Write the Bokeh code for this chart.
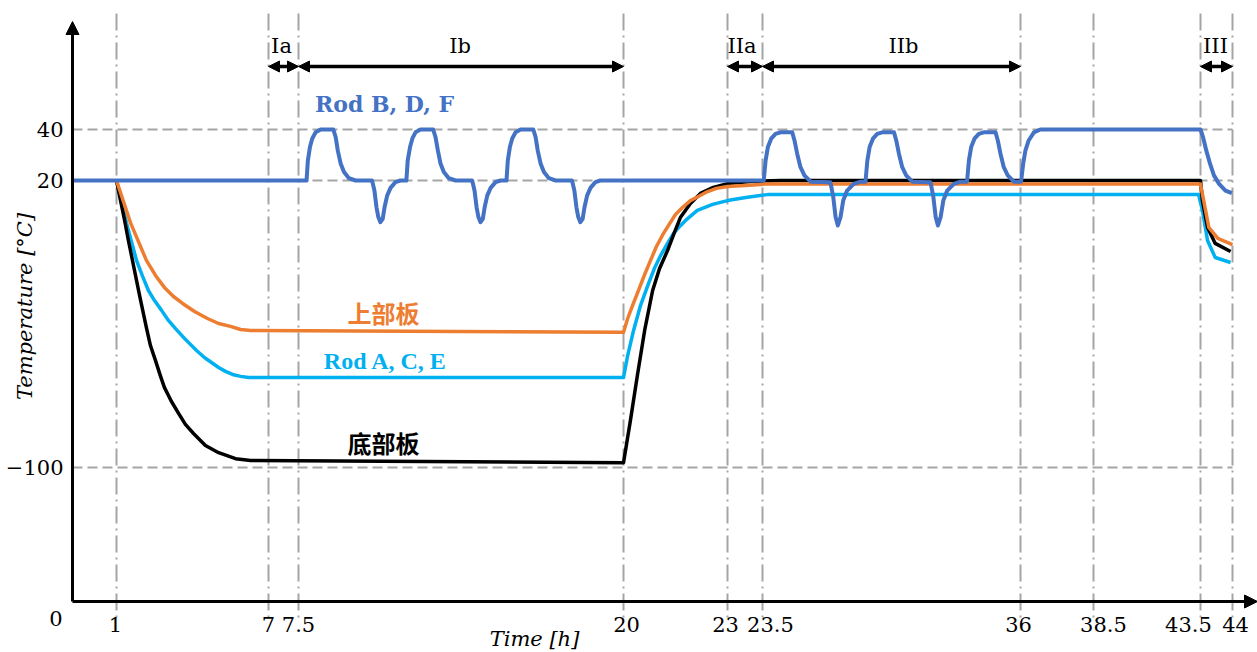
import numpy as np
from bokeh.plotting import figure
from bokeh.models import Range1d, FixedTicker, Label, Arrow, NormalHead, ColumnDataSource
from bokeh.embed import file_html
from bokeh.resources import INLINE

# ---------------- data ----------------
tick_hours = [1, 7, 7.5, 20, 23, 23.5, 36, 38.5, 43.5, 44]
tick_labels = ["1", "7", "7.5", "20", "23", "23.5", "36", "38.5", "43.5", "44"]
temp_ticks = [40, 20, -100]
temp_tick_labels = ["40", "20", "\u2212100"]

phase_names = ["Ia", "Ib", "IIa", "IIb", "III"]
phase_start = [7, 7.5, 23, 23.5, 43.5]
phase_end = [7.5, 20, 23.5, 36, 44]

rod_bdf_time = [0,
                7.81, 7.86, 7.94, 8.03, 8.16, 8.35, 8.84, 8.93, 9.01, 9.12, 9.25, 9.44, 9.69,
                10.33, 10.42, 10.50, 10.57, 10.65, 10.74, 10.81, 10.91, 11.04, 11.23, 11.42,
                11.65, 11.70, 11.79, 11.88, 12.00, 12.19, 12.68, 12.77, 12.86, 12.96, 13.09, 13.28, 13.54,
                14.18, 14.27, 14.35, 14.42, 14.50, 14.59, 14.66, 14.76, 14.89, 15.08, 15.27,
                15.50, 15.55, 15.63, 15.72, 15.85, 16.04, 16.53, 16.62, 16.70, 16.81, 16.94, 17.13, 17.39,
                18.02, 18.11, 18.19, 18.26, 18.34, 18.43, 18.50, 18.60, 18.73, 18.92, 19.11,
                23.56, 23.65, 23.76, 23.92, 24.13, 24.37, 24.94, 25.05, 25.18, 25.34, 25.53, 25.83,
                26.79, 26.93, 27.04, 27.15, 27.28, 27.41, 27.60, 27.92, 28.25,
                28.49, 28.58, 28.69, 28.85, 29.06, 29.30, 29.87, 29.98, 30.11, 30.27, 30.46, 30.76,
                31.64, 31.78, 31.89, 32.00, 32.13, 32.26, 32.45, 32.77, 33.10,
                33.41, 33.50, 33.61, 33.77, 33.98, 34.22, 34.79, 34.90, 35.03, 35.19, 35.38, 35.68,
                36.02, 36.09, 36.17, 36.28, 36.46, 36.68, 37.03, 37.37, 37.71,
                43.50, 43.54, 43.59, 43.65, 43.71, 43.79, 43.89, 43.99]
rod_bdf_temp = [20,
                20, 27.8, 33.1, 36.5, 38.9, 40, 40, 37, 31.8, 26.7, 23.3, 20.9, 20,
                20, 15.8, 8.8, 4.7, 2.6, 4, 8.8, 13.7, 16.9, 19.3, 20,
                20, 27.8, 33.1, 36.5, 38.9, 40, 40, 37, 31.8, 26.7, 23.3, 20.9, 20,
                20, 15.8, 8.8, 4.7, 2.6, 4, 8.8, 13.7, 16.9, 19.3, 20,
                20, 27.8, 33.1, 36.5, 38.9, 40, 40, 37, 31.8, 26.7, 23.3, 20.9, 20,
                20, 15.8, 8.8, 4.7, 2.6, 4, 8.8, 13.7, 16.9, 19.3, 20,
                20, 27.8, 33.1, 36.4, 38.3, 38.9, 38.9, 35.7, 30.5, 25.2, 22, 19.5,
                19.3, 13, 4.7, 1.2, 4.7, 11.6, 15.8, 18.6, 19.5,
                19.5, 27.8, 33.1, 36.4, 38.3, 38.9, 38.9, 35.7, 30.5, 25.2, 22, 19.5,
                19.3, 13, 4.7, 1.2, 4.7, 11.6, 15.8, 18.6, 19.5,
                19.5, 27.8, 33.1, 36.4, 38.3, 38.9, 38.9, 35.7, 30.5, 25.2, 22, 19.5,
                19.5, 26.5, 31.8, 35.7, 38.9, 40.7, 41.3, 40.9, 40,
                40, 37, 31.8, 26.5, 22, 18.6, 15.8, 14.7]

rod_ace_time = [1, 1.39, 1.79, 2.03, 2.26, 2.5, 2.78, 3.05, 3.33, 3.61, 3.88, 4.16, 4.47, 4.75,
                5.03, 5.3, 5.58, 5.9, 6.21,
                20, 20.12, 20.29, 20.49, 20.72, 20.89, 21.07, 21.27, 21.44, 21.62, 21.79, 22.13,
                22.57, 23, 23.26, 23.74,
                43.41, 43.53, 43.61, 43.73, 43.97]
rod_ace_temp = [20, 2.4, -13.4, -20.1, -26, -30.2, -34.3, -38.5, -41.9, -45.2, -48.1, -51.1, -54, -56.1,
                -58.2, -59.8, -61.1, -61.9, -62.4,
                -62.4, -53.2, -42.7, -32.3, -23.1, -16.8, -11.4, -6.3, -2.2, 0.8, 3.3, 7.5,
                10, 11.6, 12.9, 14.1,
                14.1, 7.5, -5.1, -12.2, -14.3]

upper_time = [1, 1.55, 2.18, 2.54, 2.89, 3.25, 3.61, 4.08, 4.59, 5.03, 5.5, 5.9, 6.29,
              20, 20.12, 20.26, 20.43, 20.61, 20.78, 20.95, 21.15, 21.33, 21.5, 21.7, 21.93,
              22.16, 22.37, 22.68, 23, 23.26, 23.65,
              43.5, 43.55, 43.63, 43.77, 44.0]
upper_temp = [20, 2.4, -13.4, -19.7, -24.7, -28.5, -31.4, -34.8, -37.7, -39.8, -41, -42.3, -42.7,
              -43.5, -37.7, -32.3, -26, -19.3, -13.4, -7.6, -2.2, 2, 5.8, 8.7, 11.6,
              13.3, 15, 16.7, 17.5, 17.9, 18.5,
              18.5, 11.6, 0.4, -4.2, -6.8]

bottom_time = [1, 1.16, 1.32, 1.47, 1.63, 1.91, 2.18, 2.34, 2.54, 2.74, 2.89, 3.17, 3.45, 3.72,
               4.04, 4.51, 5.03, 5.7, 6.29,
               20, 20.2, 20.4, 20.61, 20.84, 21.04, 21.27, 21.47, 21.64, 21.93, 22.22, 22.59, 23,
               23.33, 24.37,
               43.5, 43.53, 43.61, 43.73, 43.97]
bottom_temp = [20, 11.6, 3.3, -5.1, -13.4, -28, -41.5, -49, -55.3, -61.9, -66.5, -72.4, -77.4, -82,
               -85.8, -90.8, -93.8, -96.3, -97.1,
               -98, -80.3, -61.5, -42.7, -26, -16.8, -9.3, -1.7, 4.5, 10.4, 14.6, 17.1, 18.7,
               19.6, 20,
               20, 11.6, 0.4, -6.3, -9.7]

# ---------------- schematic axis layout (display positions) ----------------
x_anchor_hours = [0, 1, 7, 7.5, 20, 23, 23.5, 36, 38.5, 43.5, 44, 44.39]
x_anchor_pos = [72, 116, 268, 298, 623, 727, 762, 1020, 1093, 1200, 1232, 1257]
y_anchor_temp = [-100, 20, 40]
y_anchor_pos = [467, 180, 129]
tick_label_dx = [-1, 0, 0, 3, -2, 8, -2, 10, -12, 3]
phase_label_dx = [-2, -1, -3, 12, -1]


def fx(h):
    return np.interp(np.asarray(h, dtype=float), x_anchor_hours, x_anchor_pos)


def fy(t):
    return np.interp(np.asarray(t, dtype=float), y_anchor_temp, y_anchor_pos)


W, H = 1257, 652
p = figure(width=W, height=H, output_backend="svg", toolbar_location=None,
           x_range=Range1d(0, W), y_range=Range1d(H, 0),
           min_border_left=0, min_border_right=0, min_border_top=0, min_border_bottom=0)
p.outline_line_color = None
p.grid.visible = False
p.background_fill_color = "white"
p.border_fill_color = "white"

SERIF = "DejaVu Serif"
GRAY = "#A5A5A5"

# axes (placed on the schematic origin)
xline = [float(v) for v in fx(tick_hours)]
xt = [round(v + d, 1) for v, d in zip(xline, tick_label_dx)]
yt = [float(v) for v in fy(temp_ticks)]
p.xaxis.ticker = FixedTicker(ticks=xt)
p.xaxis.major_label_overrides = {t: l for t, l in zip(xt, tick_labels)}
p.yaxis.ticker = FixedTicker(ticks=yt)
p.yaxis.major_label_overrides = {t: l for t, l in zip(yt, temp_tick_labels)}
p.xaxis.fixed_location = 601
p.yaxis.fixed_location = 72
for ax in (p.xaxis, p.yaxis):
    ax.axis_line_width = 3
    ax.axis_line_color = "black"
    ax.major_tick_line_color = None
    ax.minor_tick_line_color = None
    ax.major_tick_out = 0
    ax.major_tick_in = 0
    ax.major_label_text_font = SERIF
    ax.major_label_text_font_size = "21px"
    ax.major_label_text_color = "black"
p.xaxis.major_label_standoff = 15
p.yaxis.major_label_standoff = 9
p.xaxis.bounds = (72, 1245)
p.yaxis.bounds = (35, 601)

# guide lines
vsrc = ColumnDataSource(dict(x=xline, y0=[13] * len(xline), y1=[620] * len(xline)))
p.segment(x0="x", y0="y0", x1="x", y1="y1", source=vsrc, line_color=GRAY,
          line_width=2, line_dash="17 5 2 5")
hsrc = ColumnDataSource(dict(y=yt, x0=[float(fx(0))] * 3, x1=[float(fx(44))] * 3))
p.segment(x0="x0", y0="y", x1="x1", y1="y", source=hsrc, line_color=GRAY,
          line_width=2, line_dash="10 5")

# series
p.line(fx(rod_ace_time), fy(rod_ace_temp), line_color="#00B0F0", line_width=3.5, line_join="round")
p.line(fx(bottom_time), fy(bottom_temp), line_color="black", line_width=3.5, line_join="round")
p.line(fx(upper_time), fy(upper_temp), line_color="#ED7D31", line_width=3.5, line_join="round")
p.line(fx(rod_bdf_time), fy(rod_bdf_temp), line_color="#4472C4", line_width=4, line_join="round")

# phase arrows
for name, s, e, d in zip(phase_names, phase_start, phase_end, phase_label_dx):
    xs, xe = float(fx(s)), float(fx(e))
    p.add_layout(Arrow(x_start=xs, y_start=66, x_end=xe, y_end=66, line_width=3.5, line_color="black",
                       start=NormalHead(size=11, fill_color="black", line_color="black"),
                       end=NormalHead(size=11, fill_color="black", line_color="black")))
    p.add_layout(Label(x=(xs + xe) / 2 + d, y=45, text=name, text_align="center", text_baseline="middle",
                       text_font=SERIF, text_font_size="21px", text_color="black"))

# axis arrows
p.add_layout(Arrow(x_start=72, y_start=45, x_end=72, y_end=21, line_width=3, line_color="black",
                   end=NormalHead(size=13, fill_color="black", line_color="black")))
p.add_layout(Arrow(x_start=1230, y_start=601, x_end=1257, y_end=601, line_width=3, line_color="black",
                   end=NormalHead(size=13, fill_color="black", line_color="black")))

# series labels
p.add_layout(Label(x=384, y=103, text="Rod B, D, F", text_align="center", text_baseline="middle",
                   text_font="DejaVu Serif", text_font_style="bold", text_font_size="22px",
                   text_color="#4472C4"))
p.add_layout(Label(x=385, y=360, text="Rod A, C, E", text_align="center", text_baseline="middle",
                   text_font="Liberation Serif", text_font_style="bold", text_font_size="24px",
                   text_color="#00B0F0"))
p.add_layout(Label(x=383, y=312, text="上部板", text_align="center", text_baseline="middle",
                   text_font="Noto Sans CJK SC", text_font_style="bold", text_font_size="24px",
                   text_color="#ED7D31"))
p.add_layout(Label(x=383, y=442, text="底部板", text_align="center", text_baseline="middle",
                   text_font="Noto Sans CJK SC", text_font_style="bold", text_font_size="24px",
                   text_color="black"))

# axis titles and origin
p.add_layout(Label(x=534, y=638, text="Time [h]", text_align="center", text_baseline="middle",
                   text_font=SERIF, text_font_style="italic", text_font_size="21px", text_color="black"))
p.add_layout(Label(x=24, y=306, text="Temperature [°C]", angle=np.pi / 2, text_align="center",
                   text_baseline="middle", text_font=SERIF, text_font_style="italic",
                   text_font_size="21px", text_color="black"))
p.add_layout(Label(x=62, y=618, text="0", text_align="right", text_baseline="middle",
                   text_font=SERIF, text_font_size="21px", text_color="black"))

open("out.html", "w").write(file_html(p, INLINE))
